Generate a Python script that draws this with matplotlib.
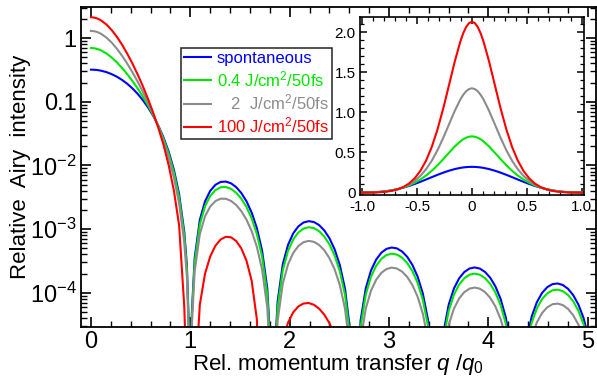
import numpy as np
import matplotlib
matplotlib.use('Agg')
import matplotlib.pyplot as plt
from matplotlib.ticker import FixedLocator, MultipleLocator, LogLocator, NullFormatter

plt.rcParams['font.family'] = ['Liberation Sans', 'DejaVu Sans']
plt.rcParams['mathtext.fontset'] = 'custom'
plt.rcParams['mathtext.rm'] = 'Liberation Sans'
plt.rcParams['mathtext.it'] = 'Liberation Sans:italic'
plt.rcParams['mathtext.bf'] = 'Liberation Sans:bold'
plt.rcParams['axes.unicode_minus'] = False

# q / q0 sample positions (main lobe, then the side lobes, zeros included)
q = [0, .0261, .0522, .0783, .1044, .1566, .2088, .2610, .3132, .3654, .4176, .4698, .5220,
     .5742, .6264, .6785, .7307, .7829, .8351, .8873, .9395, .9656, .9917, 1.0,
     1.0157,
     1.0439, 1.0961, 1.1483, 1.2005, 1.2527, 1.3049, 1.3571, 1.4093, 1.4615,
     1.5137, 1.5659, 1.6181, 1.6703, 1.7225, 1.7747,
     1.8153, 1.8269, 1.8309, 1.8466,
     1.8791, 1.9313, 1.9835, 2.0357, 2.0879, 2.1400, 2.1922, 2.2444, 2.2966,
     2.3488, 2.4010, 2.4532, 2.5054, 2.5576, 2.6098,
     2.6551,
     2.6620, 2.7142, 2.7664, 2.8186, 2.8708, 2.9230, 2.9752, 3.0274, 3.0796,
     3.1318, 3.1840, 3.2362, 3.2884, 3.3406, 3.3928, 3.4450,
     3.4772,
     3.4972, 3.5494, 3.6015, 3.6537, 3.7059, 3.7581, 3.8103, 3.8625, 3.9147,
     3.9669, 4.0191, 4.0713, 4.1235, 4.1757, 4.2279, 4.2801,
     4.2985,
     4.3323, 4.3845, 4.4367, 4.4889, 4.5411, 4.5933, 4.6455, 4.6977, 4.7499,
     4.8021, 4.8543, 4.9065, 4.9587, 5.0109, 5.0631,
     5.1194]

spontaneous = [.32, .3192, .3168, .3128, .3073, .2923, .2720, .2479, .2207, .1918, .1624, .1336, .1064,
               .08176, .06013, .04198, .02739, .01635, .008534, .003555, 9.008e-4, 2.706e-4, 1.453e-5, 1e-9,
               4.8e-5,
               3.485e-4, 1.394e-3, 2.719e-3, 3.984e-3, 4.95e-3, 5.494e-3, 5.574e-3, 5.235e-3, 4.563e-3,
               3.68e-3, 2.722e-3, 1.806e-3, 1.031e-3, 4.592e-4, 1.178e-4,
               8.43e-6, 5.76e-7, 1e-9, 8.43e-6,
               7.28e-5, 2.808e-4, 5.616e-4, 8.534e-4, 1.101e-3, 1.267e-3, 1.33e-3, 1.288e-3, 1.153e-3,
               9.507e-4, 7.149e-4, 4.778e-4, 2.703e-4, 1.148e-4, 2.422e-5,
               1e-9,
               5.34e-7, 3.645e-5, 1.167e-4, 2.219e-4, 3.306e-4, 4.243e-4, 4.877e-4, 5.12e-4, 4.96e-4,
               4.435e-4, 3.648e-4, 2.718e-4, 1.782e-4, 9.696e-5, 3.744e-5, 5.4e-6,
               1e-9,
               1.95e-6, 2.403e-5, 6.499e-5, 1.161e-4, 1.676e-4, 2.11e-4, 2.395e-4, 2.49e-4, 2.389e-4,
               2.114e-4, 1.715e-4, 1.253e-4, 7.974e-5, 4.09e-5, 1.372e-5, 9.2e-7,
               1e-9,
               2.96e-6, 1.792e-5, 4.221e-5, 7.098e-5, 9.917e-5, 1.22e-4, 1.361e-4, 1.395e-4, 1.319e-4,
               1.149e-4, 9.142e-5, 6.512e-5, 3.984e-5, 1.876e-5, 5.03e-6,
               1e-9]

fl_04 = [.70, .6960, .6842, .6650, .6394, .5740, .4965, .4166, .3402, .2714, .2122, .1623, .1212,
         .0880, .0617, .04137, .0261, .01515, .007721, .003155, 7.866e-4, 2.347e-4, 1.252e-5, 1e-9,
         4.13e-5,
         2.97e-4, 1.177e-3, 2.278e-3, 3.316e-3, 4.098e-3, 4.528e-3, 4.575e-3, 4.282e-3, 3.721e-3,
         2.994e-3, 2.21e-3, 1.464e-3, 8.338e-4, 3.71e-4, 9.503e-5,
         6.8e-6, 4.6e-7, 1e-9, 6.8e-6,
         5.862e-5, 2.259e-4, 4.516e-4, 6.857e-4, 8.84e-4, 1.017e-3, 1.067e-3, 1.033e-3, 9.244e-4,
         7.62e-4, 5.727e-4, 3.826e-4, 2.165e-4, 9.19e-5, 1.939e-5,
         1e-9,
         4.27e-7, 2.915e-5, 9.33e-5, 1.775e-4, 2.643e-4, 3.393e-4, 3.9e-4, 4.094e-4, 3.966e-4,
         3.547e-4, 2.917e-4, 2.174e-4, 1.425e-4, 7.754e-5, 2.994e-5, 4.31e-6,
         1e-9,
         1.56e-6, 1.922e-5, 5.197e-5, 9.282e-5, 1.34e-4, 1.687e-4, 1.915e-4, 1.991e-4, 1.911e-4,
         1.691e-4, 1.371e-4, 1.002e-4, 6.377e-5, 3.27e-5, 1.098e-5, 7.3e-7,
         1e-9,
         2.37e-6, 1.433e-5, 3.375e-5, 5.676e-5, 7.93e-5, 9.757e-5, 1.089e-4, 1.115e-4, 1.055e-4,
         9.187e-5, 7.311e-5, 5.208e-5, 3.186e-5, 1.5e-5, 4.03e-6,
         1e-9]

fl_2 = [1.30, 1.2909, 1.2643, 1.2209, 1.1638, 1.0187, .8507, .6830, .5289, .3970, .2908, .2075, .1445,
        .09785, .06415, .04039, .02404, .01323, .006435, .00252, 6.057e-4, 1.778e-4, 9.34e-6, 1e-9,
        3.06e-5,
        2.153e-4, 8.336e-4, 1.58e-3, 2.258e-3, 2.747e-3, 2.995e-3, 2.991e-3, 2.773e-3, 2.39e-3,
        1.908e-3, 1.399e-3, 9.21e-4, 5.222e-4, 2.313e-4, 5.903e-5,
        4.2e-6, 2.9e-7, 1e-9, 4.2e-6,
        3.62e-5, 1.391e-4, 2.774e-4, 4.202e-4, 5.407e-4, 6.214e-4, 6.507e-4, 6.289e-4, 5.621e-4,
        4.631e-4, 3.476e-4, 2.321e-4, 1.312e-4, 5.568e-5, 1.174e-5,
        1e-9,
        2.58e-7, 1.761e-5, 5.637e-5, 1.072e-4, 1.597e-4, 2.05e-4, 2.356e-4, 2.474e-4, 2.396e-4,
        2.143e-4, 1.762e-4, 1.313e-4, 8.611e-5, 4.684e-5, 1.809e-5, 2.61e-6,
        1e-9,
        9.4e-7, 1.161e-5, 3.14e-5, 5.607e-5, 8.098e-5, 1.019e-4, 1.157e-4, 1.203e-4, 1.154e-4,
        1.021e-4, 8.285e-5, 6.053e-5, 3.853e-5, 1.976e-5, 6.63e-6, 4.4e-7,
        1e-9,
        1.43e-6, 8.66e-6, 2.039e-5, 3.429e-5, 4.791e-5, 5.895e-5, 6.577e-5, 6.737e-5, 6.371e-5,
        5.55e-5, 4.417e-5, 3.146e-5, 1.925e-5, 9.06e-6, 2.43e-6,
        1e-9]

fl_100 = [2.13, 2.1139, 2.0667, 1.9900, 1.8890, 1.6337, 1.3405, 1.0509, .7893, .5703, .3991, .2697, .1763,
          .1111, .06732, .03884, .02106, .0100, .0040, .00115, 6.0e-5, 3e-6, 1e-7, 1e-9,
          1e-8,
          2.7e-6, 6.53e-5, 1.98e-4, 3.71e-4, 5.46e-4, 6.84e-4, 7.55e-4, 7.42e-4, 6.49e-4,
          4.96e-4, 3.17e-4, 1.53e-4, 3.78e-5, 1e-8, 1e-8,
          1e-8, 1e-8, 1e-9, 5.9e-7,
          4.81e-6, 1.764e-5, 3.372e-5, 4.908e-5, 6.089e-5, 6.756e-5, 6.871e-5, 6.447e-5, 5.61e-5,
          4.506e-5, 3.307e-5, 2.159e-5, 1.196e-5, 4.99e-6, 1.03e-6,
          1e-9,
          2.1e-8, 1.46e-6, 4.67e-6, 8.88e-6, 1.32e-5, 1.7e-5, 1.95e-5, 2.05e-5, 1.98e-5,
          1.77e-5, 1.46e-5, 1.09e-5, 7.1e-6, 3.9e-6, 1.5e-6, 2.2e-7,
          1e-9,
          7.8e-8, 9.6e-7, 2.6e-6, 4.6e-6, 6.7e-6, 8.4e-6, 9.6e-6, 1.0e-5, 9.6e-6,
          8.5e-6, 6.9e-6, 5.0e-6, 3.2e-6, 1.6e-6, 5.5e-7, 3.7e-8,
          1e-9,
          1.2e-7, 7.2e-7, 1.7e-6, 2.8e-6, 4.0e-6, 4.9e-6, 5.4e-6, 5.6e-6, 5.3e-6,
          4.6e-6, 3.7e-6, 2.6e-6, 1.6e-6, 7.5e-7, 2.0e-7,
          1e-9]

series = [spontaneous, fl_04, fl_2, fl_100]
labels = ['spontaneous', '0.4 J/cm$^2$/50fs', '   2  J/cm$^2$/50fs', '100 J/cm$^2$/50fs']
colors = ['#0000ff', '#00e600', '#8c8c8c', '#ff0000']

fig = plt.figure(figsize=(5.97, 3.77), dpi=100)
ax = fig.add_axes([0.1357, 0.133, 0.862, 0.848])

for ys, lab, c in zip(series, labels, colors):
    ax.plot(q, ys, color=c, lw=1.5, label=lab)

ax.set_yscale('log')
ax.set_xlim(-0.1, 5.08)
ax.set_ylim(2.9e-5, 3.07)

ax.xaxis.set_major_locator(FixedLocator([0, 1, 2, 3, 4, 5]))
ax.xaxis.set_minor_locator(MultipleLocator(0.2))
ax.set_yticks([1e-4, 1e-3, 1e-2, 0.1, 1])
ax.set_yticklabels(['10$^{-4}$', '10$^{-3}$', '10$^{-2}$', '0.1', '1'])
ax.yaxis.set_minor_locator(LogLocator(base=10, subs=np.arange(2, 10)))
ax.yaxis.set_minor_formatter(NullFormatter())
ax.tick_params(which='both', direction='in', top=True, right=True)
ax.tick_params(which='major', length=7, width=1.2, labelsize=17)
ax.tick_params(axis='y', which='major', pad=3)
ax.tick_params(axis='x', which='major', pad=3)
ax.tick_params(which='minor', length=4, width=1)
for s in ax.spines.values():
    s.set_linewidth(1.3)

ax.set_xlabel('Rel. momentum transfer $q$ /$q_0$', fontsize=16, labelpad=-1)
ax.set_ylabel('Relative  Airy  intensity', fontsize=16, labelpad=-1)

leg = ax.legend(loc='upper left', bbox_to_anchor=(0.194, 0.873), borderaxespad=0,
                fontsize=12, frameon=True, fancybox=False, framealpha=1,
                edgecolor='#222222', borderpad=0.2, handlelength=1.6,
                handletextpad=0.35, labelspacing=0.2)
leg.get_frame().set_linewidth(1.1)
for t, c in zip(leg.get_texts(), colors):
    t.set_color(c)

# inset: central lobe on a linear scale, mirrored to negative q
qa = np.array(q)
m = qa <= 1.05
qi = np.concatenate([-qa[m][::-1], qa[m]])
axin = fig.add_axes([0.603, 0.483, 0.375, 0.472])
for ys, c in zip(series, colors):
    ya = np.array(ys)[m]
    axin.plot(qi, np.concatenate([ya[::-1], ya]), color=c, lw=1.5)
axin.set_xlim(-1.02, 1.02)
axin.set_ylim(-0.03, 2.19)
axin.xaxis.set_major_locator(FixedLocator([-1, -0.5, 0, 0.5, 1]))
axin.set_xticklabels(['-1.0', '-0.5', '0', '0.5', '1.0'])
axin.xaxis.set_minor_locator(MultipleLocator(0.1))
axin.yaxis.set_major_locator(FixedLocator([0, 0.5, 1, 1.5, 2]))
axin.set_yticklabels(['0', '0.5', '1.0', '1.5', '2.0'])
axin.yaxis.set_minor_locator(MultipleLocator(0.1))
axin.tick_params(which='both', direction='in', top=True, right=True)
axin.tick_params(which='major', length=5, width=1.1, labelsize=11)
axin.tick_params(axis='x', which='major', pad=4)
axin.tick_params(axis='y', which='major', pad=3)
axin.tick_params(which='minor', length=3, width=0.9)
for s in axin.spines.values():
    s.set_linewidth(1.2)

fig.savefig('out.png', dpi=100)
